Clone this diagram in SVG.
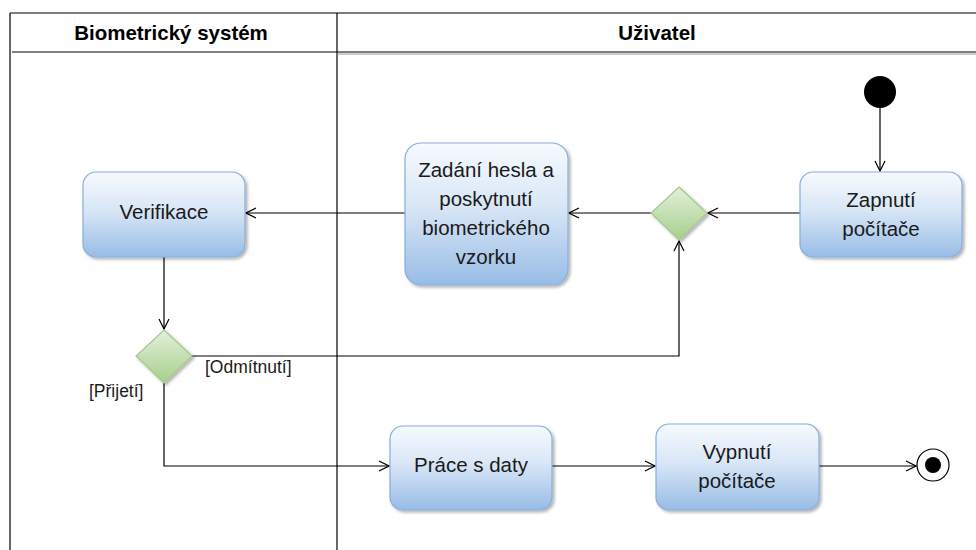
<svg xmlns="http://www.w3.org/2000/svg" width="976" height="550" viewBox="0 0 976 550">
<style>
.lane{stroke:#000;stroke-width:1.2;fill:none}
.hdr{font-family:"Liberation Sans",Arial,sans-serif;font-weight:bold;font-size:20.5px;fill:#000;text-anchor:middle}
.box{fill:url(#gBlue);stroke:#86aedc;stroke-width:1.2;filter:url(#sh)}
.dia{fill:url(#gGreen);stroke:#a3c98c;stroke-width:1.2;filter:url(#sh)}
.lbl{font-family:"Liberation Sans",Arial,sans-serif;font-size:20.5px;fill:#1a1a1a;text-anchor:middle}
.grd{font-family:"Liberation Sans",Arial,sans-serif;font-size:17.5px;fill:#1a1a1a}
.con{stroke:#000;stroke-width:1.2;fill:none}
</style>
<defs>
<linearGradient id="gBlue" x1="0" y1="0" x2="0" y2="1">
<stop offset="0" stop-color="#f7fafe"/>
<stop offset="0.45" stop-color="#d8e6f6"/>
<stop offset="1" stop-color="#98bce6"/>
</linearGradient>
<linearGradient id="gGreen" x1="0" y1="0" x2="0" y2="1">
<stop offset="0" stop-color="#e2f0da"/>
<stop offset="1" stop-color="#a6cf8b"/>
</linearGradient>
<filter id="sh" x="-20%" y="-20%" width="140%" height="140%">
<feDropShadow dx="2" dy="2" stdDeviation="1.5" flood-color="#000" flood-opacity="0.3"/>
</filter>
<marker id="arr" viewBox="0 0 12 12" refX="11" refY="6" markerWidth="12" markerHeight="12" markerUnits="userSpaceOnUse" orient="auto">
<path d="M1,1 L11,6 L1,11" fill="none" stroke="#000" stroke-width="1.2"/>
</marker>
</defs>
<g id="lanes">
<line class="lane" x1="10" y1="13" x2="976" y2="13"/>
<line class="lane" x1="10" y1="13" x2="10" y2="550"/>
<line class="lane" x1="337" y1="13" x2="337" y2="550"/>
<line class="lane" x1="12" y1="52" x2="976" y2="52"/>
<line x1="337" y1="54" x2="976" y2="54" stroke="#999" stroke-width="1"/>
<text class="hdr" x="171" y="40">Biometrický systém</text>
<text class="hdr" x="657" y="40">Uživatel</text>
</g>
<g id="connectors">
<line class="con" x1="880" y1="108" x2="880" y2="171" marker-end="url(#arr)"/>
<line class="con" x1="800" y1="213" x2="708" y2="213" marker-end="url(#arr)"/>
<line class="con" x1="651" y1="213" x2="569" y2="213" marker-end="url(#arr)"/>
<line class="con" x1="405" y1="213" x2="246" y2="213" marker-end="url(#arr)"/>
<line class="con" x1="164" y1="257" x2="164" y2="329" marker-end="url(#arr)"/>
<polyline class="con" points="192,356 679,356 679,241" marker-end="url(#arr)"/>
<polyline class="con" points="164,383 164,466 389,466" marker-end="url(#arr)"/>
<line class="con" x1="552" y1="466" x2="655" y2="466" marker-end="url(#arr)"/>
<line class="con" x1="819" y1="466" x2="916" y2="466" marker-end="url(#arr)"/>
<text class="grd" x="205" y="373">[Odmítnutí]</text>
<text class="grd" x="89" y="397">[Přijetí]</text>
</g>
<g id="start">
<circle cx="880" cy="92" r="16" fill="#000"/>
</g>
<g id="zapnuti">
<rect class="box" x="800" y="172" width="162" height="85" rx="13"/>
<text class="lbl" x="881" y="207">Zapnutí</text>
<text class="lbl" x="881" y="236">počítače</text>
</g>
<g id="decision1">
<polygon class="dia" points="679,187 707,213 679,240 651,213"/>
</g>
<g id="zadani">
<rect class="box" x="405" y="143" width="163" height="142" rx="16"/>
<text class="lbl" x="486" y="177">Zadání hesla a</text>
<text class="lbl" x="486" y="206">poskytnutí</text>
<text class="lbl" x="486" y="235">biometrického</text>
<text class="lbl" x="486" y="264">vzorku</text>
</g>
<g id="verifikace">
<rect class="box" x="83" y="172" width="162" height="85" rx="13"/>
<text class="lbl" x="164" y="219">Verifikace</text>
</g>
<g id="decision2">
<polygon class="dia" points="164,330 192,356 164,383 136,356"/>
</g>
<g id="prace">
<rect class="box" x="390" y="426" width="162" height="84" rx="13"/>
<text class="lbl" x="471" y="472">Práce s daty</text>
</g>
<g id="vypnuti">
<rect class="box" x="656" y="424" width="163" height="86" rx="13"/>
<text class="lbl" x="737" y="459">Vypnutí</text>
<text class="lbl" x="737" y="488">počítače</text>
</g>
<g id="end">
<circle cx="933" cy="465" r="16" fill="#fff" stroke="#000" stroke-width="1.2"/>
<circle cx="933" cy="465" r="8" fill="#000"/>
</g>
</svg>
